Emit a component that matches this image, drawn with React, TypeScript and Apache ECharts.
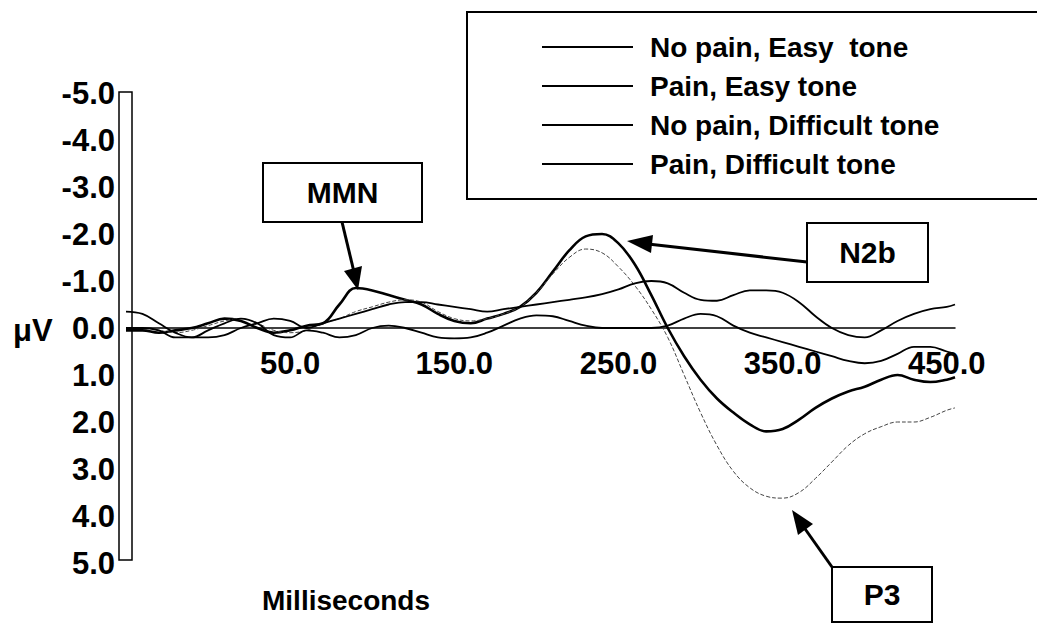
import React, { useEffect, useRef } from "react";
import * as echarts from "echarts";

const times = [-50, -40, -30, -20, -10, 0, 10, 20, 30, 40, 50, 60, 70, 80, 90, 100, 110, 120, 130, 140, 150, 160, 170, 180, 190, 200, 210, 220, 230, 240, 250, 260, 270, 280, 290, 300, 310, 320, 330, 340, 350, 360, 370, 380, 390, 400, 410, 420, 430, 440, 450, 455];

const noPainEasy = [0.05, 0.05, 0.1, 0.05, 0.0, -0.1, -0.2, -0.15, 0.0, 0.1, 0.05, -0.05, -0.1, -0.5, -0.85, -0.8, -0.7, -0.6, -0.5, -0.3, -0.15, -0.1, -0.2, -0.3, -0.45, -0.75, -1.2, -1.65, -1.95, -2.0, -1.8, -1.35, -0.7, 0.0, 0.6, 1.1, 1.5, 1.8, 2.05, 2.2, 2.15, 1.95, 1.7, 1.5, 1.35, 1.25, 1.1, 1.0, 1.1, 1.15, 1.1, 1.05];
const painEasy = [0.0, 0.0, 0.05, 0.1, 0.05, -0.05, -0.15, -0.2, -0.1, 0.05, 0.1, 0.05, -0.1, -0.2, -0.35, -0.45, -0.55, -0.6, -0.55, -0.35, -0.2, -0.15, -0.2, -0.3, -0.45, -0.75, -1.15, -1.5, -1.68, -1.6, -1.3, -0.9, -0.4, 0.2, 1.0, 1.8, 2.5, 3.05, 3.4, 3.58, 3.62, 3.5, 3.2, 2.85, 2.5, 2.25, 2.1, 2.0, 2.0, 1.9, 1.75, 1.7];
const noPainDifficult = [-0.35, -0.3, -0.1, 0.1, 0.2, 0.2, 0.15, 0.0, -0.1, -0.2, -0.15, 0.0, -0.1, -0.2, -0.3, -0.4, -0.5, -0.55, -0.55, -0.5, -0.45, -0.4, -0.35, -0.4, -0.45, -0.5, -0.55, -0.6, -0.65, -0.72, -0.82, -0.95, -1.0, -0.95, -0.75, -0.6, -0.58, -0.7, -0.8, -0.8, -0.75, -0.55, -0.25, 0.0, 0.15, 0.2, 0.05, -0.15, -0.3, -0.4, -0.45, -0.5];
const painDifficult = [0.0, 0.0, 0.05, 0.2, 0.2, 0.05, -0.1, -0.2, -0.1, 0.15, 0.2, 0.05, 0.1, 0.2, 0.15, 0.0, -0.05, 0.0, 0.1, 0.2, 0.22, 0.2, 0.1, -0.05, -0.2, -0.27, -0.25, -0.15, -0.05, 0.0, 0.0, 0.0, 0.0, -0.05, -0.2, -0.3, -0.25, -0.05, 0.1, 0.2, 0.3, 0.4, 0.5, 0.6, 0.7, 0.75, 0.7, 0.55, 0.4, 0.4, 0.5, 0.55];

const seriesNames = ["No pain, Easy  tone", "Pain, Easy tone", "No pain, Difficult tone", "Pain, Difficult tone"];
const xTickLabels = [50, 150, 250, 350, 450];
const annotations = ["MMN", "N2b", "P3"];

const FONT = "'Liberation Sans', Arial, Helvetica, sans-serif";

export default function App() {
  const ref = useRef<HTMLDivElement>(null);
  useEffect(() => {
    if (!ref.current) return;
    const chart = echarts.init(ref.current, null, { renderer: "svg" });
    const mk = (vals: number[]) => times.map((t, i) => [t, vals[i]]);
    const lineSeries = (name: string, vals: number[], width: number, color: string, type: any = "solid") => ({
      name,
      type: "line",
      data: mk(vals),
      smooth: 0.4,
      showSymbol: false,
      symbol: "none",
      lineStyle: { color, width, type },
      itemStyle: { color: "#000" },
      z: 3,
    });
    const boxText = (x: number, y: number, w: number, h: number, label: string) => [
      { type: "rect", shape: { x, y, width: w, height: h }, style: { fill: "#fff", stroke: "#000", lineWidth: 2 }, z: 10 },
      { type: "text", x: x + w / 2, y: y + h / 2, style: { text: label, font: `bold 30px ${FONT}`, fill: "#000", align: "center", verticalAlign: "middle" }, z: 11 },
    ];
    chart.setOption({
      animation: false,
      backgroundColor: "#fff",
      grid: { left: 126, top: 93, width: 829, height: 470, containLabel: false },
      xAxis: {
        type: "value",
        min: -50,
        max: 455,
        position: "bottom",
        offset: -235,
        splitLine: { show: false },
        axisTick: { show: false },
        axisLine: { show: true, onZero: false, lineStyle: { color: "#000", width: 1.5 } },
        axisLabel: {
          customValues: xTickLabels,
          formatter: (v: number) => v.toFixed(1),
          color: "#000",
          fontSize: 31,
          fontWeight: "bold",
          fontFamily: FONT,
          margin: 20,
        },
      },
      yAxis: {
        type: "value",
        min: -5,
        max: 5,
        interval: 1,
        inverse: true,
        splitLine: { show: false },
        axisTick: { show: false },
        axisLine: { show: false },
        axisLabel: {
          formatter: (v: number) => v.toFixed(1),
          color: "#000",
          fontSize: 31,
          fontWeight: "bold",
          fontFamily: FONT,
          margin: 11,
        },
      },
      legend: {
        orient: "vertical",
        left: 467,
        top: 12,
        padding: [21, 160, 21, 75],
        itemGap: 11,
        itemWidth: 91,
        itemHeight: 2,
        icon: "rect",
        borderColor: "#000",
        borderWidth: 2,
        backgroundColor: "#fff",
        data: seriesNames,
        textStyle: { color: "#000", fontSize: 28, fontWeight: "bold", fontFamily: FONT, padding: [0, 0, 0, 12] },
      },
      series: [
        lineSeries(seriesNames[0], noPainEasy, 2.6, "#000"),
        lineSeries(seriesNames[1], painEasy, 1, "#444", [4, 2]),
        lineSeries(seriesNames[2], noPainDifficult, 1.8, "#000"),
        lineSeries(seriesNames[3], painDifficult, 1.8, "#000"),
      ],
      graphic: [
        { type: "rect", shape: { x: 119, y: 92, width: 13, height: 468 }, style: { fill: "#fff", stroke: "#000", lineWidth: 1.5 }, z: 1 },
        { type: "text", x: 13, y: 330, style: { text: "μV", font: `bold 31px ${FONT}`, fill: "#000", verticalAlign: "middle" } },
        { type: "text", x: 262, y: 600, style: { text: "Milliseconds", font: `bold 28px ${FONT}`, fill: "#000", verticalAlign: "middle" } },
        ...boxText(263, 163, 159, 59, annotations[0]),
        ...boxText(807, 223, 121, 59, annotations[1]),
        ...boxText(832, 567, 100, 55, annotations[2]),
        { type: "line", shape: { x1: 342, y1: 222, x2: 354, y2: 272 }, style: { stroke: "#000", lineWidth: 3 }, z: 10 },
        { type: "polygon", shape: { points: [[358, 290], [344, 271], [362, 266]] }, style: { fill: "#000" }, z: 10 },
        { type: "line", shape: { x1: 807, y1: 262, x2: 648, y2: 244 }, style: { stroke: "#000", lineWidth: 3 }, z: 10 },
        { type: "polygon", shape: { points: [[627, 241], [653, 235], [651, 253]] }, style: { fill: "#000" }, z: 10 },
        { type: "line", shape: { x1: 832, y1: 567, x2: 803, y2: 526 }, style: { stroke: "#000", lineWidth: 3 }, z: 10 },
        { type: "polygon", shape: { points: [[792, 510], [813, 524], [798, 535]] }, style: { fill: "#000" }, z: 10 },
      ],
    });
    return () => chart.dispose();
  }, []);
  return <div ref={ref} style={{ position: "fixed", left: 0, top: 0, width: 1037, height: 624 }} />;
}
